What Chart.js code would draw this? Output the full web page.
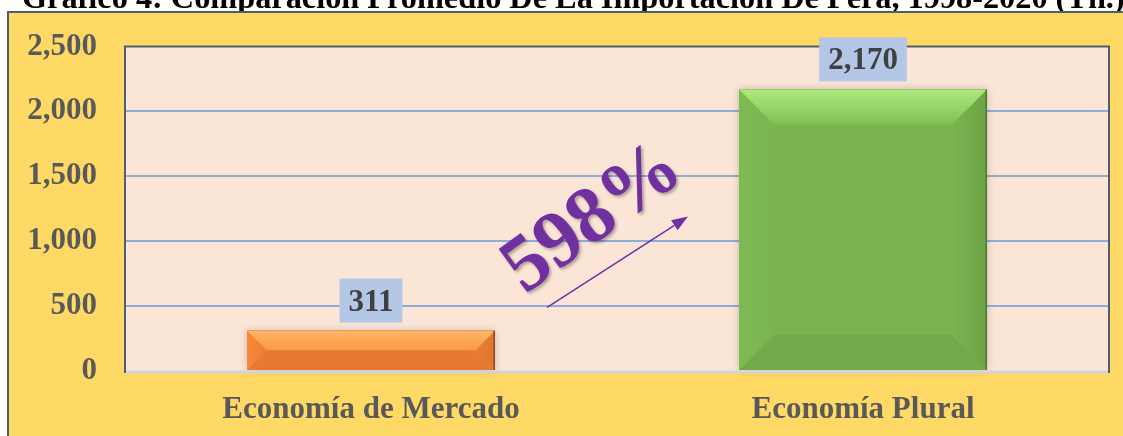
<!DOCTYPE html>
<html>
<head>
<meta charset="utf-8">
<script src="https://cdn.jsdelivr.net/npm/chart.js@4.4.1/dist/chart.umd.min.js"></script>
<style>
  html, body { margin: 0; padding: 0; background: #ffffff; }
  #wrap { width: 1123px; height: 436px; position: relative; }
  canvas { display: block; }
</style>
</head>
<body>
<div id="wrap"><canvas id="c" width="1123" height="436"></canvas></div>
<script>
// ---- data ----
const titleText = 'Gráfico 4: Comparación Promedio De La Importación De Pera, 1998-2020 (Tn.)';
const categories = ['Economía de Mercado', 'Economía Plural'];
const values = [311, 2170];
const yTicks = [0, 500, 1000, 1500, 2000, 2500];
const growthLabel = '598%';

// ---- styles ----
const SERIF = '"Liberation Serif", "Times New Roman", serif';
const barStyles = [
  { base: '#EC7C33', top: ['#FFB565', '#F89A48'], left: '#F98A3A', right: '#DF7630', bottom: '#E77A32', edge: '#8C4A1C' },
  { base: '#7AB450', top: ['#AEEA7E', '#80BE55'], left: '#7EBB53', right: '#6CA344', bottom: '#72AA4A', edge: '#4A7A2E' }
];

const fmt = v => v.toLocaleString('en-US');

const decorPlugin = {
  id: 'decor',
  beforeDraw(chart) {
    const ctx = chart.ctx;
    const a = chart.chartArea;
    ctx.save();
    ctx.fillStyle = '#000000';
    ctx.font = 'bold 32.3px ' + SERIF;
    ctx.textBaseline = 'alphabetic';
    ctx.textAlign = 'left';
    ctx.fillText(titleText, 22, 8);
    ctx.fillStyle = '#FFD966';
    ctx.fillRect(8, 12, chart.width - 8, chart.height - 12);
    ctx.strokeStyle = '#4F5D70';
    ctx.lineWidth = 2;
    ctx.beginPath();
    ctx.moveTo(8, chart.height);
    ctx.lineTo(8, 12);
    ctx.lineTo(chart.width, 12);
    ctx.stroke();
    ctx.fillStyle = '#FBE5D6';
    ctx.fillRect(a.left, a.top, a.right - a.left, a.bottom - a.top);
    ctx.restore();
  },
  beforeDatasetsDraw(chart) {
    const ctx = chart.ctx;
    const meta = chart.getDatasetMeta(0);
    ctx.save();
    meta.data.forEach(bar => {
      const L = bar.x - bar.width / 2, R = bar.x + bar.width / 2;
      const T = bar.y, B = bar.base;
      ctx.shadowColor = 'rgba(0,0,0,0.35)';
      ctx.shadowBlur = 8;
      ctx.fillStyle = 'rgba(90,60,40,0.6)';
      ctx.fillRect(L, T, R - L, B - T);
    });
    ctx.restore();
  },
  afterDatasetsDraw(chart) {
    const ctx = chart.ctx;
    const a = chart.chartArea;
    const meta = chart.getDatasetMeta(0);
    const xs = chart.scales.x, ys = chart.scales.y;
    ctx.save();
    meta.data.forEach((bar, i) => {
      const s = barStyles[i];
      const L = bar.x - bar.width / 2, R = bar.x + bar.width / 2;
      const T = bar.y, B = bar.base;
      const b = Math.min(35, (B - T) / 2, (R - L) / 2);
      ctx.fillStyle = s.base;
      ctx.fillRect(L, T, R - L, B - T);
      const poly = (pts, fill) => {
        ctx.beginPath();
        ctx.moveTo(pts[0][0], pts[0][1]);
        for (let k = 1; k < pts.length; k++) ctx.lineTo(pts[k][0], pts[k][1]);
        ctx.closePath();
        ctx.fillStyle = fill;
        ctx.fill();
      };
      poly([[L, B], [R, B], [R - b, B - b], [L + b, B - b]], s.bottom);
      const gl = ctx.createLinearGradient(L, 0, L + b, 0);
      gl.addColorStop(0, s.left);
      gl.addColorStop(1, s.base);
      poly([[L, T], [L + b, T + b], [L + b, B - b], [L, B]], gl);
      const gr = ctx.createLinearGradient(R - b, 0, R, 0);
      gr.addColorStop(0, s.base);
      gr.addColorStop(1, s.right);
      poly([[R, T], [R, B], [R - b, B - b], [R - b, T + b]], gr);
      const g = ctx.createLinearGradient(0, T, 0, T + b);
      g.addColorStop(0, s.top[0]);
      g.addColorStop(1, s.top[1]);
      poly([[L, T], [R, T], [R - b, T + b], [L + b, T + b]], g);
      ctx.strokeStyle = s.edge;
      ctx.lineWidth = 1.5;
      ctx.beginPath();
      ctx.moveTo(R - 0.75, T);
      ctx.lineTo(R - 0.75, B);
      ctx.stroke();
    });
    const y0 = ys.getPixelForValue(0);
    ctx.strokeStyle = '#D4D4D4';
    ctx.lineWidth = 3;
    ctx.beginPath();
    ctx.moveTo(a.left, y0 + 1);
    ctx.lineTo(a.right, y0 + 1);
    ctx.stroke();
    ctx.strokeStyle = '#515D6E';
    ctx.lineWidth = 2;
    ctx.beginPath();
    ctx.moveTo(a.left, y0 + 2);
    ctx.lineTo(a.left, a.top);
    ctx.lineTo(a.right, a.top);
    ctx.lineTo(a.right, y0 + 2);
    ctx.stroke();
    ctx.font = 'bold 31px ' + SERIF;
    ctx.textAlign = 'center';
    ctx.textBaseline = 'middle';
    meta.data.forEach((bar, i) => {
      const txt = fmt(values[i]);
      const w = ctx.measureText(txt).width + 18;
      const h = 44;
      const bottom = bar.y - 8;
      ctx.fillStyle = '#B4C7E7';
      ctx.fillRect(bar.x - w / 2, bottom - h, w, h);
      ctx.fillStyle = '#404040';
      ctx.fillText(txt, bar.x, bottom - h / 2 + 2);
    });
    const x1 = xs.getPixelForValue(0.358), y1 = ys.getPixelForValue(490);
    const x2 = xs.getPixelForValue(0.644), y2 = ys.getPixelForValue(1190);
    ctx.strokeStyle = '#7030A0';
    ctx.fillStyle = '#7030A0';
    ctx.lineWidth = 1.5;
    const ang = Math.atan2(y2 - y1, x2 - x1);
    const hl = 16, hw = 6;
    ctx.beginPath();
    ctx.moveTo(x1, y1);
    ctx.lineTo(x2 - hl * Math.cos(ang), y2 - hl * Math.sin(ang));
    ctx.stroke();
    ctx.beginPath();
    ctx.moveTo(x2, y2);
    ctx.lineTo(x2 - hl * Math.cos(ang) + hw * Math.sin(ang), y2 - hl * Math.sin(ang) - hw * Math.cos(ang));
    ctx.lineTo(x2 - hl * Math.cos(ang) - hw * Math.sin(ang), y2 - hl * Math.sin(ang) + hw * Math.cos(ang));
    ctx.closePath();
    ctx.fill();
    const tx = xs.getPixelForValue(0.452), ty = ys.getPixelForValue(1170);
    ctx.save();
    ctx.translate(tx, ty);
    ctx.rotate(-36 * Math.PI / 180);
    ctx.font = 'bold 80px ' + SERIF;
    ctx.textAlign = 'center';
    ctx.textBaseline = 'middle';
    ctx.shadowColor = 'rgba(0,0,0,0.3)';
    ctx.shadowBlur = 3;
    ctx.shadowOffsetX = 2;
    ctx.shadowOffsetY = 2;
    ctx.fillStyle = '#7030A0';
    ctx.fillText(growthLabel, 0, 0);
    ctx.restore();
    ctx.restore();
  }
};

new Chart(document.getElementById('c'), {
  type: 'bar',
  data: {
    labels: categories,
    datasets: [{
      data: values,
      backgroundColor: barStyles.map(s => s.base),
      borderWidth: 0,
      categoryPercentage: 1.0,
      barPercentage: 0.504
    }]
  },
  options: {
    responsive: false,
    animation: false,
    devicePixelRatio: 1,
    layout: { padding: { left: 0, right: 14, top: 43, bottom: 0 } },
    plugins: {
      legend: { display: false },
      tooltip: { enabled: false },
      title: { display: false }
    },
    scales: {
      x: {
        grid: { display: false, drawTicks: false },
        border: { display: false },
        ticks: {
          padding: 20,
          color: '#595959',
          font: { family: SERIF, size: 31, weight: 'bold' },
          maxRotation: 0
        },
        afterFit(scale) { scale.height = 65; }
      },
      y: {
        min: 0,
        max: 2500,
        afterBuildTicks(scale) { scale.ticks = yTicks.map(v => ({ value: v })); },
        grid: {
          drawTicks: false,
          lineWidth: 2,
          color: ctx => (ctx.tick && (ctx.tick.value === 0 || ctx.tick.value === 2500)) ? 'rgba(0,0,0,0)' : '#8FAADC'
        },
        border: { display: false },
        ticks: {
          padding: 28,
          color: '#595959',
          font: { family: SERIF, size: 31, weight: 'bold' },
          callback: v => fmt(v)
        },
        afterFit(scale) { scale.width = 125; }
      }
    }
  },
  plugins: [decorPlugin]
});
</script>
</body>
</html>
